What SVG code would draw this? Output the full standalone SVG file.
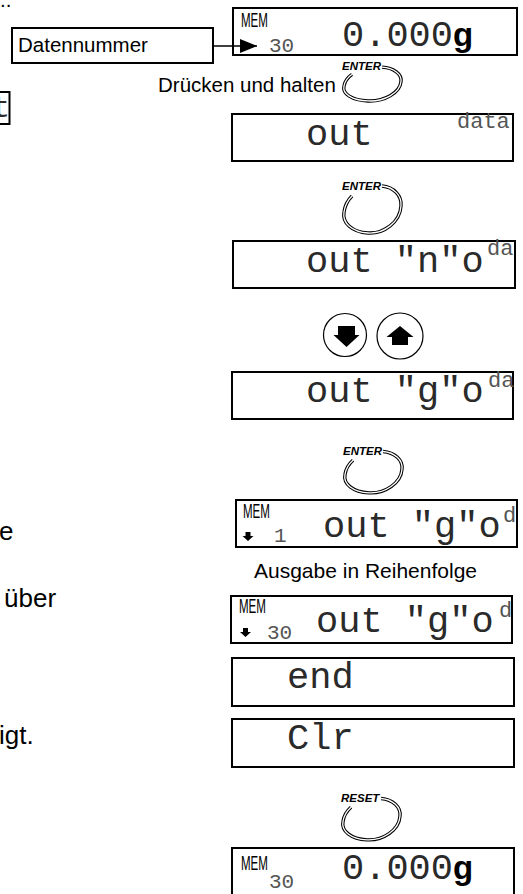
<svg xmlns="http://www.w3.org/2000/svg" width="523" height="894" viewBox="0 0 523 894">
<style>
.box{fill:#fff;stroke:#000;stroke-width:2}
.lcd{font-family:"Liberation Mono",monospace;font-size:37px;fill:#2a2a2a}
.sm{font-family:"Liberation Mono",monospace;font-size:22px;fill:#555}
.num{font-family:"Liberation Mono",monospace;font-size:21px;fill:#555}
.mem{font-family:"Liberation Sans",Arial,sans-serif;font-size:21px;fill:#000}
.lbl{font-family:"Liberation Sans",Arial,sans-serif;font-size:20.5px;fill:#000}
.side{font-family:"Liberation Sans",Arial,sans-serif;font-size:26px;fill:#000}
.key{font-family:"Liberation Sans",Arial,sans-serif;font-size:11.5px;font-weight:bold;font-style:italic;fill:#000}
.g{font-family:"Liberation Sans",Arial,sans-serif;font-size:33px;font-weight:bold;fill:#000}
.loopo{fill:none;stroke:#000;stroke-width:3.4}
.loopi{fill:none;stroke:#fff;stroke-width:1.3}
.btn{fill:#fff;stroke:#000;stroke-width:1.2}
.conn{stroke:#000;stroke-width:1.5;fill:none}
</style>
<defs>
<path id="loop" vector-effect="non-scaling-stroke" d="M40,-4 C52,-3 60,6 59,16 C58,32 42,44 26,43 C10,42 0,33 2,22 C3,15 6,10 10,6"/>
<path id="sdn" d="M-2.5,-5 H2.5 V-1 H5.5 L0,4 L-5.5,-1 H-2.5 Z"/>
<marker id="tri" markerWidth="17" markerHeight="14" refX="17" refY="7" orient="auto" markerUnits="userSpaceOnUse">
<path d="M0,0 L17,7 L0,14 Z" fill="#000"/>
</marker>
</defs>

<!-- left cropped fragments -->
<g id="fragments">
<text class="lbl" x="0" y="7">..</text>
<rect class="box" x="-30" y="92" width="39.5" height="32"/>
<text class="lcd" x="-8" y="117" style="font-size:30px">t</text>
<text class="side" x="-1" y="540">e</text>
<text class="side" x="4" y="607">über</text>
<text class="side" x="-1" y="744">igt.</text>
</g>

<g id="datennummer">
<rect class="box" x="12" y="28" width="201" height="35"/>
<text class="lbl" x="18" y="52">Datennummer</text>
</g>

<g id="disp-top">
<rect class="box" x="233" y="8" width="284" height="47"/>
<text class="mem" transform="translate(241,27) scale(0.55,1)">MEM</text>
<text class="num" x="269" y="52">30</text>
<text class="lcd" x="342" y="46">0.000</text>
<text class="g" x="453" y="46">g</text>
</g>

<g id="connectors">
<line class="conn" x1="213" y1="46" x2="257" y2="46" marker-end="url(#tri)"/>
</g>

<g id="enter1">
<g transform="translate(342,70)">
<text class="key" x="0" y="0">ENTER</text>
<g transform="scale(1,0.72)"><use href="#loop" class="loopo"/><use href="#loop" class="loopi"/></g>
</g>
<text class="lbl" x="158" y="92">Drücken und halten</text>
</g>

<g id="disp-out-data">
<rect class="box" x="232" y="114" width="281" height="47"/>
<text class="lcd" x="306" y="145">out</text>
<text class="sm" x="457" y="128">data</text>
</g>

<g id="enter2" transform="translate(342,190)">
<text class="key" x="0" y="0">ENTER</text>
<use href="#loop" class="loopo"/><use href="#loop" class="loopi"/>
</g>

<g id="disp-out-n">
<rect class="box" x="233" y="241" width="282" height="47"/>
<text class="lcd" x="306" y="272">out "n"o</text>
<text class="sm" x="487" y="255">da</text>
</g>

<g id="btn-down">
<circle class="btn" cx="345" cy="335" r="21.5"/>
<path d="M338,326 H355 V335 H359.5 L346.5,347 L333.5,335 H338 Z" fill="#000"/>
</g>
<g id="btn-up">
<circle class="btn" cx="400" cy="336" r="23"/>
<path d="M400,326 L413.5,337 H408 V345 H392 V337 H386.5 Z" fill="#000"/>
</g>

<g id="disp-out-g">
<rect class="box" x="232" y="372" width="281" height="47"/>
<text class="lcd" x="306" y="402">out "g"o</text>
<text class="sm" x="488" y="387">da</text>
</g>

<g id="enter3">
<g transform="translate(343,455)">
<text class="key" x="0" y="0">ENTER</text>
<g transform="scale(1,0.88)"><use href="#loop" class="loopo"/><use href="#loop" class="loopi"/></g>
</g>
</g>

<g id="disp-mem1">
<rect class="box" x="236" y="500" width="281" height="47"/>
<text class="mem" transform="translate(243,518) scale(0.55,1)">MEM</text>
<use href="#sdn" transform="translate(248,537)"/>
<text class="num" x="274" y="542">1</text>
<text class="lcd" x="323" y="537">out "g"o</text>
<text class="sm" x="503" y="522">d</text>
</g>

<g id="label-ausgabe">
<text class="lbl" x="254" y="578" style="font-size:21px">Ausgabe in Reihenfolge</text>
</g>

<g id="disp-mem30">
<rect class="box" x="231" y="596" width="281" height="47"/>
<text class="mem" transform="translate(239,613) scale(0.55,1)">MEM</text>
<use href="#sdn" transform="translate(245.5,633)"/>
<text class="num" x="267" y="639">30</text>
<text class="lcd" x="316" y="632">out "g"o</text>
<text class="sm" x="499" y="617">d</text>
</g>

<g id="disp-end">
<rect class="box" x="232" y="658" width="282" height="48"/>
<text class="lcd" x="287" y="688">end</text>
</g>

<g id="disp-clr">
<rect class="box" x="232" y="719" width="282" height="48"/>
<text class="lcd" x="287" y="749">Clr</text>
</g>

<g id="reset">
<g transform="translate(341,802)">
<text class="key" x="0" y="0">RESET</text>
<g transform="scale(1,0.88)"><use href="#loop" class="loopo"/><use href="#loop" class="loopi"/></g>
</g>
</g>

<g id="disp-bottom">
<rect class="box" x="232" y="848" width="282" height="48"/>
<text class="mem" transform="translate(241,870) scale(0.55,1)">MEM</text>
<text class="num" x="269" y="888">30</text>
<text class="lcd" x="342" y="879">0.000</text>
<text class="g" x="453" y="879">g</text>
</g>
</svg>
